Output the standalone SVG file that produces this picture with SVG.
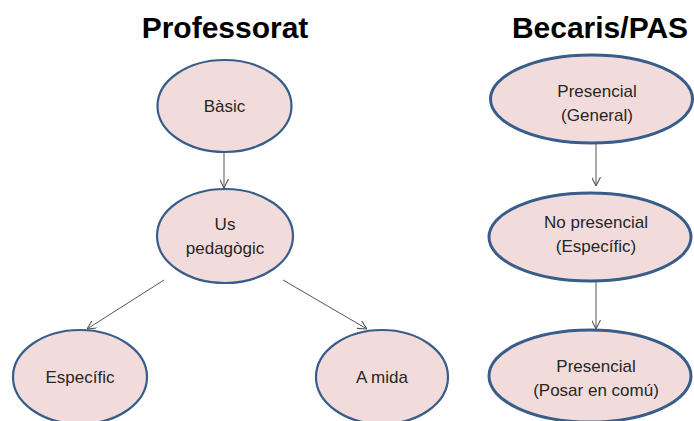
<svg xmlns="http://www.w3.org/2000/svg" width="694" height="421" viewBox="0 0 694 421">
<defs>
<marker id="arr" viewBox="0 0 10 10" refX="10" refY="5" markerWidth="9" markerHeight="9" markerUnits="userSpaceOnUse" orient="auto">
<path d="M0,0 L10,5 L0,10" fill="none" stroke="#555" stroke-width="1.2"/>
</marker>
</defs>
<style>
.n{fill:#f2dcdb;stroke:#385d8a;stroke-width:2.2}
.r{stroke-width:3}
.t{font-family:"Liberation Sans",Arial,sans-serif;font-size:17px;fill:#262626;text-anchor:middle}
.h{font-family:"Liberation Sans",Arial,sans-serif;font-size:30px;font-weight:bold;fill:#000;text-anchor:middle}
.c{stroke:#555;stroke-width:1;fill:none;marker-end:url(#arr)}
</style>
<rect width="694" height="421" fill="#fff"/>
<text class="h" x="225" y="38">Professorat</text>
<text class="h" x="600" y="38">Becaris/PAS</text>
<g id="connectors">
<line class="c" x1="224" y1="152" x2="224" y2="188"/>
<line class="c" x1="164" y1="280" x2="87" y2="329"/>
<line class="c" x1="283" y1="280" x2="367" y2="329"/>
<line class="c" x1="596" y1="143" x2="596" y2="186"/>
<line class="c" x1="596" y1="281" x2="596" y2="329"/>
</g>
<g id="basic"><ellipse class="n" cx="224.5" cy="106" rx="67" ry="46"/><text class="t" x="224.5" y="112">Bàsic</text></g>
<g id="us"><ellipse class="n" cx="225" cy="236" rx="68" ry="47"/><text class="t" x="225" y="230">Us</text><text class="t" x="225" y="254">pedagògic</text></g>
<g id="especific"><ellipse class="n" cx="80" cy="377" rx="67" ry="47"/><text class="t" x="80" y="383">Específic</text></g>
<g id="amida"><ellipse class="n" cx="382" cy="377" rx="66" ry="47"/><text class="t" x="382" y="383">A mida</text></g>
<g id="presencial1"><ellipse class="n r" cx="591.5" cy="99" rx="101" ry="44"/><text class="t" x="597" y="97">Presencial</text><text class="t" x="597" y="121">(General)</text></g>
<g id="nopresencial"><ellipse class="n r" cx="590" cy="237" rx="101" ry="44"/><text class="t" x="596" y="228">No presencial</text><text class="t" x="596" y="252">(Específic)</text></g>
<g id="presencial2"><ellipse class="n r" cx="590" cy="376" rx="101" ry="46"/><text class="t" x="596" y="372">Presencial</text><text class="t" x="596" y="396">(Posar en comú)</text></g>
</svg>
